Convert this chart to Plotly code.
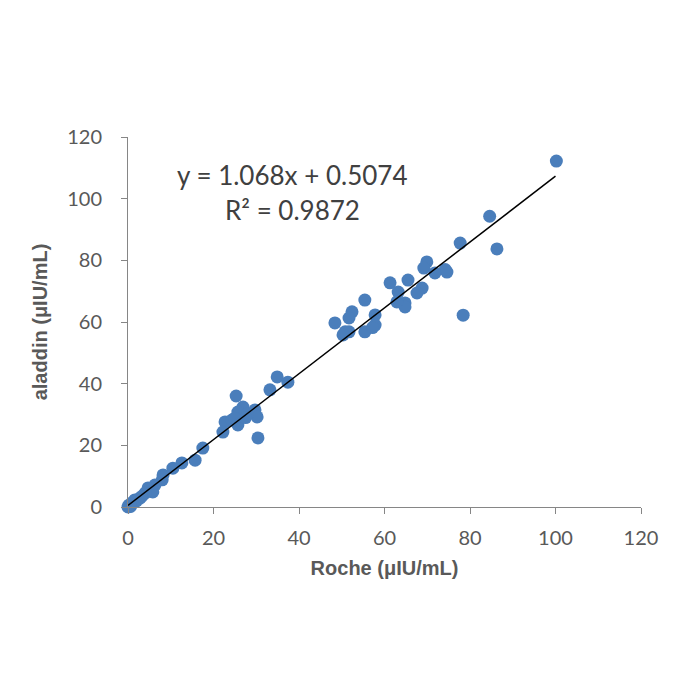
import plotly.graph_objects as go

roche = [100.2, 84.6, 86.3, 77.7, 78.4,
         69.9, 69.2, 74.6, 74.2, 71.8, 65.5, 68.8, 63.2, 67.6, 64.8, 64.8, 62.9, 61.3,
         48.4, 52.4, 51.7, 50.8, 51.7, 50.3, 55.4, 55.4, 57.8, 57.8, 57.2,
         34.9, 37.4, 33.2, 25.3, 26.9, 25.7, 29.7, 30.2, 22.7, 24.3, 25.0, 25.7, 22.2, 30.4, 28.0, 27.5,
         17.5, 15.7, 12.6, 10.5, 8.2, 8.0, 6.3, 4.7, 5.8, 4.0, 2.8, 1.6, 0.9, 0.0, 0.4, 0.2, 1.2, 2.0, 3.2, 0.6]
aladdin = [112.2, 94.3, 83.7, 85.6, 62.2,
           79.5, 77.5, 76.2, 77.0, 75.9, 73.6, 71.0, 69.7, 69.4, 66.2, 64.9, 66.5, 72.7,
           59.7, 63.3, 61.3, 56.8, 56.8, 55.8, 67.1, 56.8, 62.3, 59.0, 58.2,
           42.2, 40.5, 38.0, 36.0, 32.4, 30.8, 31.5, 29.2, 27.6, 28.2, 28.8, 26.6, 24.3, 22.4, 30.2, 29.0,
           19.1, 15.2, 14.3, 12.6, 10.4, 8.8, 7.1, 6.2, 4.9, 4.5, 2.9, 2.3, 1.3, 0.0, 0.3, 0.6, 1.6, 2.0, 3.4, 0.2]

slope = 1.068
intercept = 0.5074
r2 = 0.9872
fit_x = [0, 100]
fit_y = [intercept + slope * v for v in fit_x]

axis_ticks = [0, 20, 40, 60, 80, 100, 120]

L, R, T, B = 128, 59, 137, 193
pw, ph = 700 - L - R, 700 - T - B


def px_to_paper(x, y):
    return (x - L) / pw, (700 - B - y) / ph


fig = go.Figure()
fig.add_trace(go.Scatter(
    x=roche, y=aladdin, mode="markers",
    marker=dict(size=13, color="#4a7ebb"),
    cliponaxis=False, showlegend=False))
fig.add_trace(go.Scatter(
    x=fit_x, y=fit_y, mode="lines",
    line=dict(color="#000000", width=1.5),
    cliponaxis=False, showlegend=False))

tick_font = dict(family="Lato, Carlito, sans-serif", size=20, color="#595959")
title_font = dict(family="Liberation Sans, Arial, sans-serif", size=20, color="#595959")
eq_font = dict(family="Lato, Carlito, sans-serif", size=26, color="#404040")

ax1, ay1 = px_to_paper(292, 175)
ax2, ay2 = px_to_paper(292, 210)

fig.update_layout(
    width=700, height=700,
    margin=dict(l=L, r=R, t=T, b=B),
    paper_bgcolor="white", plot_bgcolor="white",
    xaxis=dict(range=[0, 120], tickvals=axis_ticks, showgrid=False, zeroline=False,
               showline=True, linecolor="#868686", linewidth=1,
               ticks="outside", ticklen=6, tickcolor="#868686",
               tickfont=tick_font, ticklabelstandoff=7,
               title=dict(text="<b>Roche (μIU/mL)</b>", font=title_font, standoff=12)),
    yaxis=dict(range=[0, 120], tickvals=axis_ticks, showgrid=False, zeroline=False,
               showline=True, linecolor="#868686", linewidth=1,
               ticks="outside", ticklen=6, tickcolor="#868686",
               tickfont=tick_font, ticklabelstandoff=15,
               title=dict(text="<b>aladdin (μIU/mL)</b>", font=title_font, standoff=14)),
    annotations=[
        dict(x=ax1, y=ay1, xref="paper", yref="paper", showarrow=False,
             xanchor="center", yanchor="middle",
             text=f"y = {slope}x + {intercept}", font=eq_font),
        dict(x=ax2, y=ay2, xref="paper", yref="paper", showarrow=False,
             xanchor="center", yanchor="middle",
             text=f"R² = {r2}", font=eq_font),
    ],
)

fig.write_html("out.html")
